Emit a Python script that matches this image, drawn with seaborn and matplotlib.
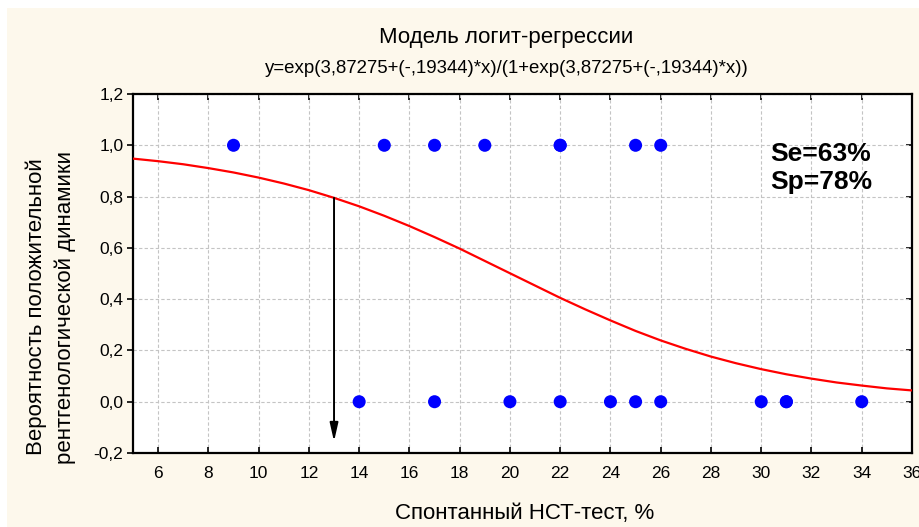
import matplotlib
matplotlib.use("Agg")
import matplotlib.pyplot as plt
from matplotlib.patches import Rectangle
import seaborn as sns
import pandas as pd

# ---- data ----
pos_x = [9, 15, 17, 19, 22, 22, 25, 26]          # outcome = 1
neg_x = [14, 17, 20, 22, 24, 25, 26, 30, 31, 31, 34]  # outcome = 0
curve_x = list(range(5, 37))
curve_p = [0.948, 0.938, 0.926, 0.911, 0.894, 0.874, 0.851, 0.825, 0.795, 0.762,
           0.725, 0.685, 0.642, 0.597, 0.549, 0.501, 0.453, 0.405, 0.360, 0.317,
           0.276, 0.239, 0.206, 0.176, 0.150, 0.127, 0.107, 0.090, 0.075, 0.063,
           0.052, 0.044]
cutoff_x = 13
cutoff_p = 0.795
arrow_end = -0.155
x_ticks = list(range(6, 37, 2))
y_ticks = [-0.2, 0.0, 0.2, 0.4, 0.6, 0.8, 1.0, 1.2]
y_tick_labels = ["-0,2", "0,0", "0,2", "0,4", "0,6", "0,8", "1,0", "1,2"]
title = "Модель логит-регрессии"
subtitle = "y=exp(3,87275+(-,19344)*x)/(1+exp(3,87275+(-,19344)*x))"
xlabel = "Спонтанный НСТ-тест, %"
ylabel = "Вероятность положительной\nрентгенологической динамики"
stats_text = "Se=63%\nSp=78%"

points = pd.DataFrame({
    "x": pos_x + neg_x,
    "y": [1.0] * len(pos_x) + [0.0] * len(neg_x),
})
curve = pd.DataFrame({"x": curve_x, "p": curve_p})

sns.set_theme(style="white")
plt.rcParams["font.family"] = ["Liberation Sans", "DejaVu Sans"]
plt.rcParams["text.color"] = "black"

W, H = 919, 527
fig = plt.figure(figsize=(W / 100, H / 100), dpi=100, facecolor="white")
# pale yellow panel behind everything
fig.patches.append(Rectangle((7 / W, 0), 1 - 7 / W, 1 - 8 / H,
                             transform=fig.transFigure, facecolor="#fdf8ec",
                             edgecolor="none", zorder=-10))

L, R, T, B = 133, 912, 94, 453
ax = fig.add_axes([L / W, 1 - B / H, (R - L) / W, (B - T) / H])
ax.set_facecolor("white")
ax.set_zorder(1)

sns.lineplot(data=curve, x="x", y="p", ax=ax, color="#ff0000", linewidth=1.6,
             zorder=3, legend=False)
sns.scatterplot(data=points, x="x", y="y", ax=ax, color="#0000ff", s=88,
                edgecolor="none", zorder=4, legend=False)

ax.annotate("", xy=(cutoff_x, arrow_end), xytext=(cutoff_x, cutoff_p),
            arrowprops=dict(arrowstyle="-|>,head_length=1.1,head_width=0.25",
                            mutation_scale=10, color="black", lw=1.4,
                            shrinkA=0, shrinkB=0), zorder=5)

ax.set_xlim(5, 36)
ax.set_ylim(-0.2, 1.2)
ax.set_xticks(x_ticks)
ax.set_xticklabels([str(v) for v in x_ticks], fontsize=12.5)
ax.set_yticks(y_ticks)
ax.set_yticklabels(y_tick_labels, fontsize=12.5)
ax.grid(True, color="#c4c4c4", linestyle=(0, (3, 2)), linewidth=0.8)
ax.set_axisbelow(True)

for s in ax.spines.values():
    s.set_visible(True)
    s.set_color("black")
    s.set_linewidth(1.6)

ax.tick_params(axis="x", direction="in", length=4, width=1.2, color="black",
               bottom=True, top=False, pad=9, labelcolor="black")
ax.tick_params(axis="y", direction="out", length=4, width=1.2, color="black",
               left=True, right=False, pad=3, labelcolor="black")
sec_top = ax.secondary_xaxis("top")
sec_top.set_xticks(x_ticks)
sec_top.tick_params(direction="in", length=4, width=1.2, color="black",
                    labeltop=False)
sec_top.spines["top"].set_visible(False)
sec_right = ax.secondary_yaxis("right")
sec_right.set_yticks(y_ticks)
sec_right.tick_params(direction="in", length=4, width=1.2, color="black",
                      labelright=False)
sec_right.spines["right"].set_visible(False)

ax.set_xlabel("")
ax.set_ylabel("")
fig.text(525 / W, 1 - 514 / H, xlabel, ha="center", va="center", fontsize=16)
fig.text(51 / W, 1 - 307 / H, ylabel, ha="center", va="center", rotation=90,
         fontsize=16, linespacing=1.45)
fig.text(506 / W, 1 - 38 / H, title, ha="center", va="center", fontsize=16)
fig.text(507 / W, 1 - 69 / H, subtitle, ha="center", va="center", fontsize=13.4)
fig.text(770 / W, 1 - 168 / H, stats_text, ha="left", va="center",
         fontsize=19, fontweight="bold", linespacing=1.25, zorder=10)

fig.savefig("out.png", dpi=100, facecolor="white")
